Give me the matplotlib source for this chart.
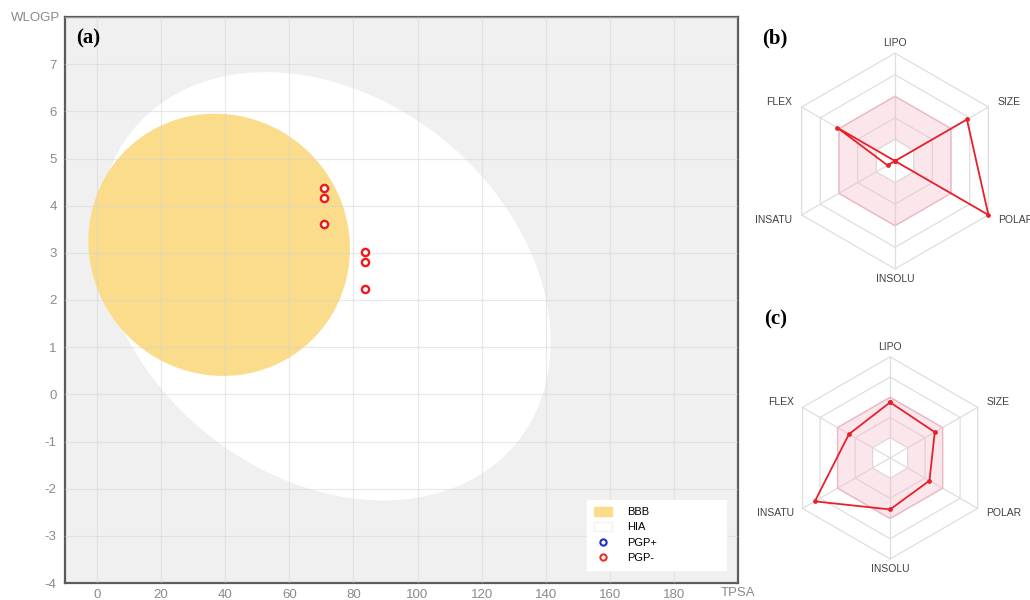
import numpy as np
import matplotlib
matplotlib.use("Agg")
import matplotlib.pyplot as plt
from matplotlib.patches import Polygon, Patch, PathPatch
from matplotlib.lines import Line2D
from matplotlib.path import Path

plt.rcParams['font.family'] = ['Liberation Sans', 'DejaVu Sans']
plt.rcParams['axes.unicode_minus'] = False

# ---- BOILED-Egg data (TPSA vs WLOGP) ----
tpsa = [70.7, 70.7, 70.7, 83.6, 83.6, 83.6]
wlogp = [4.37, 4.16, 3.61, 3.01, 2.80, 2.23]

# ellipse regions: centre, half-extent along each axis, TPSA/WLOGP coupling
bbb_center = (38.1, 3.17)
bbb_half = (40.8, 2.78)
bbb_rho = -0.03
hia_center = (71.05, 2.29)
hia_half = (70.5, 4.54)
hia_rho = -0.26

x_ticks = list(range(0, 181, 20))
y_ticks = list(range(-4, 8))

# ---- bioavailability radar data ----
radar_axes = ['LIPO', 'SIZE', 'POLAR', 'INSOLU', 'INSATU', 'FLEX']
radar_b = [0.0, 0.77, 1.0, 0.0, 0.08, 0.62]
radar_c = [0.55, 0.51, 0.45, 0.51, 0.86, 0.47]
optimal_range = (0.2, 0.6)
ring_levels = [0.2, 0.4, 0.6, 0.8, 1.0]

GREY_TXT = '#8a8a8a'
RED = '#E8202A'


def ellipse_points(center, half, rho, n=400):
    t = np.linspace(0, 2 * np.pi, n)
    x = center[0] + half[0] * np.cos(t)
    y = center[1] + half[1] * (rho * np.cos(t) + np.sqrt(1 - rho ** 2) * np.sin(t))
    return np.column_stack([x, y])


fig = plt.figure(figsize=(10.30, 6.00), dpi=100)

# ---------------- (a) BOILED-Egg ----------------
ax = fig.add_axes([65 / 1030, 1 - 583 / 600, 673 / 1030, 566 / 600])
ax.set_facecolor('#F0F0F0')
ax.set_xlim(-10, 200)
ax.set_ylim(-4, 8)

ax.add_patch(Polygon(ellipse_points(hia_center, hia_half, hia_rho),
                     closed=True, facecolor='white', edgecolor='none', zorder=1))
ax.add_patch(Polygon(ellipse_points(bbb_center, bbb_half, bbb_rho),
                     closed=True, facecolor='#FBDC8A', edgecolor='none', zorder=2))

for xv in list(range(0, 201, 20)):
    ax.axvline(xv, color='#d4d4d4', lw=0.9, alpha=0.5, zorder=3)
for yv in range(-4, 9):
    ax.axhline(yv, color='#d4d4d4', lw=0.9, alpha=0.5, zorder=3)

ax.plot(tpsa, wlogp, linestyle='none', marker='o', ms=5.2, mew=1.7,
        mec='#F01818', mfc='white', zorder=5)

ax.set_xticks(x_ticks)
ax.set_yticks(y_ticks)
ax.tick_params(length=0, labelsize=9.5, labelcolor=GREY_TXT)
ax.tick_params(axis='x', pad=4)
ax.tick_params(axis='y', pad=6)
for s in ax.spines.values():
    s.set_color('#5a5a5a')
    s.set_linewidth(1.6)

fig.text(60 / 1030, 1 - 18 / 600, 'WLOGP', ha='right', va='center',
         fontsize=9.5, color=GREY_TXT)
fig.text(755 / 1030, 1 - 593 / 600, 'TPSA', ha='right', va='center',
         fontsize=9.5, color=GREY_TXT)
fig.text(76 / 1030, 1 - 38 / 600, '(a)', ha='left', va='center',
         fontsize=15, fontweight='bold', family='Liberation Serif')

handles = [
    Patch(facecolor='#FBDC8A', edgecolor='#FBDC8A', label='BBB'),
    Patch(facecolor='white', edgecolor='#f2f2f2', label='HIA'),
    Line2D([], [], linestyle='none', marker='o', ms=4.5, mew=1.5,
           mec='#1a2fd0', mfc='white', label='PGP+'),
    Line2D([], [], linestyle='none', marker='o', ms=4.5, mew=1.5,
           mec='#E8302A', mfc='white', label='PGP-'),
]
leg = ax.legend(handles=handles, loc='lower left',
                bbox_to_anchor=(0.776, 0.023, 0.206, 0.127), mode='expand',
                fontsize=8, frameon=True, fancybox=False, borderpad=0.6,
                labelspacing=0.45, handlelength=1.6, handleheight=0.9,
                handletextpad=1.4, borderaxespad=0)
leg.get_frame().set_facecolor('white')
leg.get_frame().set_edgecolor('white')
leg.get_frame().set_alpha(1)
leg.set_zorder(10)


# ---------------- radar panels ----------------
angles = np.deg2rad([90, 30, -30, -90, -150, 150])
ca, sa = np.cos(angles), np.sin(angles)


def hexagon(r):
    return np.column_stack([r * ca, r * sa])


def radar(rect, values):
    rax = fig.add_axes(rect)
    rax.set_xlim(-1.4, 1.4)
    rax.set_ylim(-1.4, 1.4)
    rax.set_aspect('equal')
    rax.axis('off')
    rax.patch.set_alpha(0)

    for lv in ring_levels:
        rax.add_patch(Polygon(hexagon(lv), closed=True, fill=False,
                              edgecolor='#dedede', lw=0.9, zorder=1))
    for c, s in zip(ca, sa):
        rax.plot([0, c], [0, s], color='#dedede', lw=0.9, zorder=1)

    outer = hexagon(optimal_range[1])
    inner = hexagon(optimal_range[0])[::-1]
    verts = np.vstack([outer, outer[:1], inner, inner[:1]])
    codes = ([Path.MOVETO] + [Path.LINETO] * 5 + [Path.CLOSEPOLY]) * 2
    rax.add_patch(PathPatch(Path(verts, codes), facecolor='#F4B8C8',
                            alpha=0.35, edgecolor='none', zorder=2))
    rax.add_patch(Polygon(hexagon(optimal_range[1]), closed=True, fill=False,
                          edgecolor='#EDB9C7', lw=1.0, zorder=2))

    v = np.asarray(values)
    xs, ys = v * ca, v * sa
    rax.plot(np.append(xs, xs[0]), np.append(ys, ys[0]), color=RED, lw=1.3,
             marker='o', ms=2.4, zorder=4, clip_on=False)

    for name, c, s, a in zip(radar_axes, ca, sa, np.rad2deg(angles)):
        if abs(a - 90) < 1:
            rax.text(0, 1.05, name, ha='center', va='bottom', fontsize=7.5,
                     color='#404040')
        elif abs(a + 90) < 1:
            rax.text(0, -1.05, name, ha='center', va='top', fontsize=7.5,
                     color='#404040')
        else:
            rax.text(1.1 * c, 1.1 * s, name, ha='left' if c > 0 else 'right',
                     va='center', fontsize=7.5, color='#404040')
    return rax


radar([744 / 1030, 288 / 600, 302 / 1030, 302 / 600], radar_b)
radar([748.6 / 1030, 0.6 / 600, 283 / 1030, 283 / 600], radar_c)

fig.text(762 / 1030, 1 - 38 / 600, '(b)', ha='left', va='center',
         fontsize=15, fontweight='bold', family='Liberation Serif')
fig.text(764 / 1030, 1 - 319 / 600, '(c)', ha='left', va='center',
         fontsize=15, fontweight='bold', family='Liberation Serif')

fig.savefig('out.png', dpi=100, facecolor='white')
